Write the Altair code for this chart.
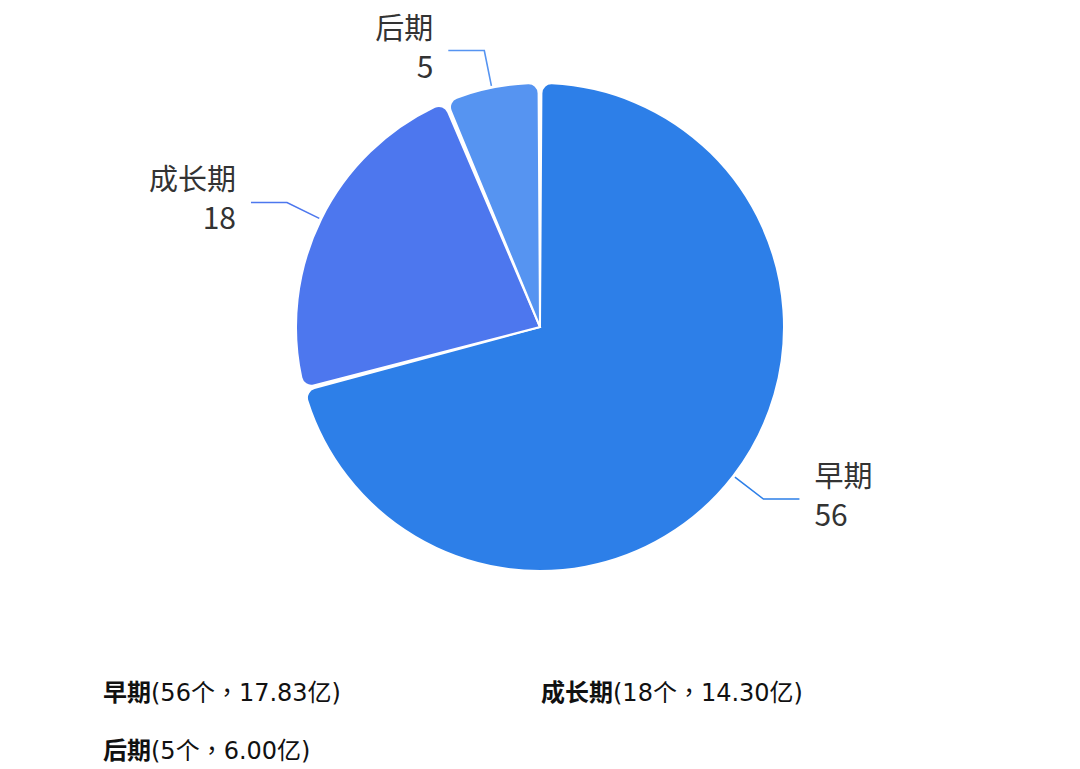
import altair as alt
import numpy as np
import pandas as pd

# ---- data ----
stages = ["早期", "成长期", "后期"]
counts = [56, 18, 5]
amounts = [17.83, 14.30, 6.00]
colors = ["#2d7fe8", "#4d77ee", "#5694f1"]

# ---- layout constants (pixels, pie centre = 0,0; y grows downward) ----
W, H = 1000, 760
CX, CY = 532, 319
R_PIE = 244
R_EDGE, R_ELBOW, ARM, GAP = 246, 282, 36, 15
LABEL_FONT = "Noto Sans CJK SC"
LEG_FONT = "DejaVu Sans, Noto Sans CJK TC"

xs = alt.Scale(domain=[-CX, W - CX], range=[0, W])
ys = alt.Scale(domain=[-CY, H - CY], range=[0, H])
cs = alt.Scale(domain=stages, range=colors)

df_pie = pd.DataFrame({"stage": stages, "count": counts, "idx": range(len(stages))})

# leader lines and labels derived from the slice mid-angles
total = float(sum(counts))
cum = np.cumsum(counts)
line_rows, lab_rows = [], []
for i, st in enumerate(stages):
    mid = (cum[i] - counts[i] / 2.0) / total * 2 * np.pi
    s, c = np.sin(mid), np.cos(mid)
    side = 1 if s >= 0 else -1
    p0 = (s * R_EDGE, -c * R_EDGE)
    p1 = (s * R_ELBOW, -c * R_ELBOW)
    p2 = (p1[0] + side * ARM, p1[1])
    for k, p in enumerate([p0, p1, p2]):
        line_rows.append({"stage": st, "pt": k, "x": p[0], "y": p[1]})
    lx = p2[0] + side * GAP
    lab_rows.append({"stage": st, "side": side, "kind": "name", "x": lx, "y": p2[1] - 21, "t": st})
    lab_rows.append({"stage": st, "side": side, "kind": "val", "x": lx, "y": p2[1] + 18, "t": str(counts[i])})
df_lines = pd.DataFrame(line_rows)
df_labs = pd.DataFrame(lab_rows)

# bottom legend text
LEG_X0, LEG_Y0, LEG_DX, LEG_DY, LEG_FS = 95 - CX, 685.5 - CY, 438, 58.5, 24
leg_rows = []
for i, st in enumerate(stages):
    col, row = i % 2, i // 2
    x0 = LEG_X0 + col * LEG_DX
    y0 = LEG_Y0 + row * LEG_DY
    leg_rows.append({
        "name": st,
        "rest": f"({counts[i]}个，{amounts[i]:.2f}亿)",
        "x0": x0,
        "x1": x0 + len(st) * LEG_FS,
        "y": y0,
    })
df_leg = pd.DataFrame(leg_rows)

arc = alt.Chart(df_pie).mark_arc(
    radius=R_PIE, cornerRadius=10, padAngle=0.012, stroke="white", strokeWidth=2
).encode(
    theta=alt.Theta("count:Q", stack=True),
    order=alt.Order("idx:Q"),
    color=alt.Color("stage:N", scale=cs, legend=None),
    x=alt.XDatum(0, scale=xs, axis=None),
    y=alt.YDatum(0, scale=ys, axis=None),
)

lines = alt.Chart(df_lines).mark_line(strokeWidth=1.6).encode(
    x=alt.X("x:Q", scale=xs, axis=None),
    y=alt.Y("y:Q", scale=ys, axis=None),
    detail="stage:N",
    order="pt:Q",
    color=alt.Color("stage:N", scale=cs, legend=None),
)

lab_base = alt.Chart(df_labs).encode(
    x=alt.X("x:Q", scale=xs, axis=None),
    y=alt.Y("y:Q", scale=ys, axis=None),
    text="t:N",
)
label_layers = []
for side_expr, align in [("datum.side > 0", "left"), ("datum.side < 0", "right")]:
    for kind, fs in [("name", 29), ("val", 30)]:
        label_layers.append(
            lab_base.transform_filter(f"{side_expr} && datum.kind == '{kind}'").mark_text(
                align=align, baseline="middle", font=LABEL_FONT, fontSize=fs, color="#333333"
            )
        )

leg_name = alt.Chart(df_leg).mark_text(
    align="left", baseline="middle", font=LEG_FONT, fontSize=LEG_FS, fontWeight="bold", color="#111111"
).encode(
    x=alt.X("x0:Q", scale=xs, axis=None),
    y=alt.Y("y:Q", scale=ys, axis=None),
    text="name:N",
)
leg_rest = alt.Chart(df_leg).mark_text(
    align="left", baseline="middle", font=LEG_FONT, fontSize=LEG_FS, color="#111111"
).encode(
    x=alt.X("x1:Q", scale=xs, axis=None),
    y=alt.Y("y:Q", scale=ys, axis=None),
    text="rest:N",
)

chart = alt.layer(arc, lines, *label_layers, leg_name, leg_rest).properties(
    width=W, height=H, autosize=alt.AutoSizeParams(type="none"), padding=0
).configure_view(stroke=None)

chart.save("out.html", embed_options={"renderer": "svg", "actions": False})
